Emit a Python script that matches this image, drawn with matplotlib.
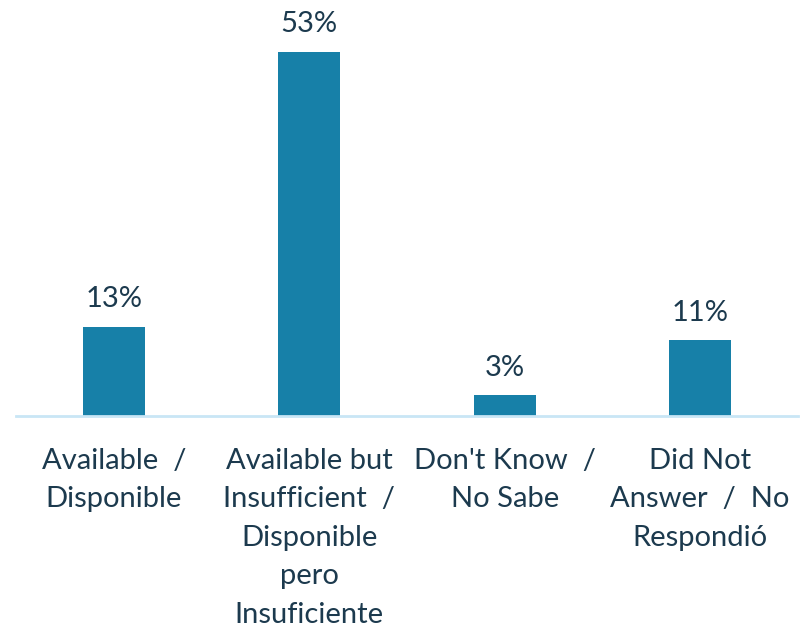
import matplotlib.pyplot as plt

categories = [
    "Available  /\nDisponible",
    "Available but\nInsufficient  /\nDisponible\npero\nInsuficiente",
    "Don't Know  /\nNo Sabe",
    "Did Not\nAnswer  /  No\nRespondió",
]
values = [13, 53, 3, 11]

bar_color = "#1780a8"
text_color = "#1c3a4e"

plt.rcParams["font.family"] = ["Lato", "DejaVu Sans"]

fig = plt.figure(figsize=(8.05, 6.27), dpi=100)
ax = fig.add_axes([0.02, 0.3365, 0.971, 0.6635])

x = list(range(len(values)))
ax.bar(x, values, width=0.317, color=bar_color)
ax.set_xlim(-0.5, 3.5)
ax.set_ylim(0, 60.55)

for xi, v in zip(x, values):
    ax.annotate(f"{v}%", (xi, v), xytext=(0, 20), textcoords="offset points",
                ha="center", va="center", fontsize=21, color=text_color)

for xi, label in zip(x, categories):
    ax.annotate(label, (xi, 0), xytext=(0, -23), textcoords="offset points",
                ha="center", va="top", fontsize=21, color=text_color,
                linespacing=1.59)

for side in ["top", "right", "left"]:
    ax.spines[side].set_visible(False)
ax.spines["bottom"].set_color("#c9e6f5")
ax.spines["bottom"].set_linewidth(2)
ax.set_xticks([])
ax.set_yticks([])

fig.savefig("out.png", dpi=100)
